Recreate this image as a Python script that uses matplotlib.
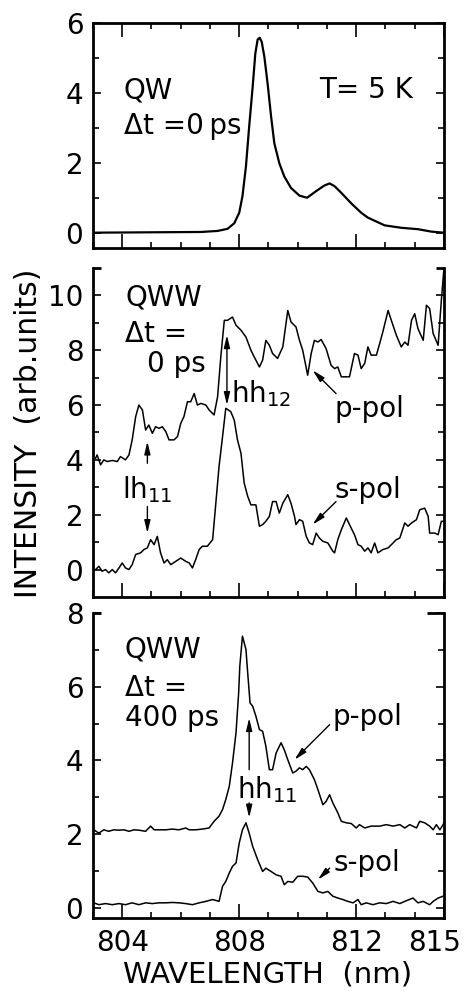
import matplotlib
matplotlib.use("Agg")
import matplotlib.pyplot as plt
from matplotlib.ticker import MultipleLocator, FixedLocator
from matplotlib.lines import Line2D
from matplotlib.transforms import ScaledTranslation

plt.rcParams['font.family'] = ['DejaVu Sans']
plt.rcParams['mathtext.fontset'] = 'dejavusans'

# ---------------- data ----------------
# Panel 1: QW, dt = 0 ps
qw_wl = [803.0, 806.69, 807.26, 807.60, 807.83, 808.00, 808.11, 808.23, 808.34, 808.46,
         808.55, 808.63, 808.70, 808.77, 808.86, 808.97, 809.09, 809.20, 809.37, 809.54,
         809.77, 810.06, 810.32, 810.63, 810.91, 811.09, 811.26, 811.49, 811.83, 812.17,
         812.40, 812.97, 813.54, 814.11, 814.57, 815.0]
qw_int = [0.0, 0.02, 0.05, 0.11, 0.27, 0.57, 1.04, 1.90, 3.04, 4.18,
          5.13, 5.53, 5.58, 5.46, 5.03, 4.27, 3.32, 2.56, 1.99, 1.61,
          1.28, 1.06, 1.00, 1.19, 1.35, 1.41, 1.33, 1.14, 0.84, 0.57,
          0.43, 0.21, 0.14, 0.10, 0.03, 0.0]

# Panel 2: QWW, dt = 0 ps
qww0_p_wl = [803.09, 803.14, 803.26, 803.37, 803.49, 803.66, 803.83, 803.94, 804.11, 804.23,
             804.34, 804.46, 804.57, 804.69, 804.80, 804.91, 805.03, 805.14, 805.26, 805.37,
             805.49, 805.60, 805.77, 805.89, 806.00, 806.11, 806.23, 806.34, 806.46, 806.57,
             806.69, 806.86, 806.97, 807.14, 807.26, 807.37, 807.49, 807.60, 807.77, 807.89,
             808.06, 808.23, 808.40, 808.51, 808.69, 808.80, 808.91, 809.03, 809.14, 809.31,
             809.49, 809.66, 809.77, 809.94, 810.06, 810.17, 810.34, 810.46, 810.57, 810.69,
             810.80, 810.97, 811.14, 811.26, 811.37, 811.49, 811.77, 811.94, 812.06, 812.17,
             812.29, 812.40, 812.51, 812.69, 812.80, 812.91, 813.09, 813.20, 813.37, 813.54,
             813.66, 813.77, 813.89, 814.00, 814.11, 814.29, 814.40, 814.51, 814.63, 814.80,
             814.91, 815.0]
qww0_p_int = [4.06, 4.18, 3.82, 4.00, 3.94, 3.98, 3.94, 4.12, 4.00, 4.18,
              4.73, 5.58, 6.00, 5.82, 5.09, 5.27, 4.97, 5.21, 5.15, 5.21,
              5.03, 4.73, 4.73, 4.85, 5.33, 5.58, 6.12, 6.12, 6.42, 6.00,
              6.06, 6.00, 5.82, 5.64, 6.30, 7.76, 9.09, 9.09, 9.21, 8.91,
              8.73, 8.48, 8.00, 7.76, 7.39, 7.64, 8.36, 8.18, 7.88, 7.70,
              8.12, 9.45, 9.03, 8.85, 8.36, 8.00, 7.09, 7.88, 8.36, 8.30,
              8.39, 8.06, 7.45, 7.33, 7.39, 7.03, 7.03, 7.88, 7.82, 7.33,
              7.52, 8.12, 7.82, 7.82, 8.24, 8.67, 9.45, 9.09, 8.55, 8.12,
              8.30, 8.18, 9.09, 9.33, 8.79, 8.36, 9.64, 9.52, 8.61, 8.18,
              9.82, 11.0]

qww0_s_wl = [803.09, 803.20, 803.31, 803.43, 803.54, 803.66, 803.77, 803.89, 804.00, 804.11,
             804.23, 804.34, 804.46, 804.63, 804.74, 804.86, 804.97, 805.09, 805.20, 805.31,
             805.43, 805.54, 805.66, 805.83, 806.00, 806.17, 806.29, 806.40, 806.51, 806.63,
             806.74, 806.91, 807.09, 807.20, 807.31, 807.43, 807.54, 807.71, 807.83, 807.94,
             808.06, 808.17, 808.29, 808.40, 808.57, 808.69, 808.80, 808.91, 809.03, 809.14,
             809.26, 809.37, 809.49, 809.66, 809.77, 809.89, 809.94, 810.06, 810.17, 810.29,
             810.40, 810.51, 810.63, 810.74, 810.86, 811.03, 811.20, 811.26, 811.37, 811.49,
             811.66, 811.77, 811.94, 812.06, 812.17, 812.29, 812.40, 812.51, 812.63, 812.74,
             812.91, 813.09, 813.26, 813.37, 813.49, 813.66, 813.77, 813.89, 814.06, 814.17,
             814.34, 814.46, 814.51, 814.69, 814.80, 814.91, 815.0]
qww0_s_int = [0.00, 0.12, -0.06, 0.00, -0.12, 0.00, -0.12, 0.06, 0.24, 0.06,
              0.00, 0.18, 0.55, 0.61, 0.73, 0.79, 1.09, 0.91, 1.21, 0.61,
              0.24, 0.36, 0.18, 0.30, 0.42, 0.30, 0.24, 0.06, 0.36, 0.73,
              0.85, 0.85, 1.09, 2.42, 3.76, 4.85, 5.88, 5.76, 5.45, 4.73,
              4.24, 3.15, 2.67, 2.36, 2.36, 1.58, 1.64, 1.76, 1.94, 2.48,
              2.48, 2.06, 2.42, 2.73, 2.42, 1.94, 1.64, 1.82, 1.76, 1.21,
              0.97, 0.91, 1.33, 1.15, 1.03, 0.97, 0.67, 0.61, 1.09, 1.45,
              1.88, 1.64, 1.27, 0.91, 0.85, 0.67, 0.79, 0.61, 0.97, 0.61,
              0.73, 0.79, 0.97, 1.09, 1.15, 1.70, 1.58, 1.70, 1.82, 2.18,
              2.24, 1.94, 1.33, 1.33, 1.27, 1.76, 1.76]

# Panel 3: QWW, dt = 400 ps
qww400_p_wl = [803.03, 803.20, 803.37, 803.54, 803.71, 803.89, 804.06, 804.23, 804.40, 804.57,
               804.80, 804.97, 805.09, 805.26, 805.49, 805.71, 805.94, 806.17, 806.29, 806.51,
               806.74, 806.97, 807.14, 807.31, 807.43, 807.54, 807.66, 807.77, 807.89, 807.98,
               808.02, 808.11, 808.23, 808.29, 808.37, 808.46, 808.57, 808.69, 808.80, 808.91,
               809.03, 809.14, 809.26, 809.43, 809.54, 809.66, 809.83, 809.94, 810.06, 810.17,
               810.29, 810.40, 810.57, 810.69, 810.86, 810.97, 811.09, 811.20, 811.37, 811.49,
               811.66, 811.83, 812.00, 812.11, 812.29, 812.51, 812.80, 813.03, 813.26, 813.49,
               813.66, 813.83, 814.06, 814.17, 814.34, 814.51, 814.63, 814.74, 814.86, 814.97,
               815.0]
qww400_p_int = [2.12, 2.03, 2.12, 2.08, 2.12, 2.11, 2.12, 2.08, 2.12, 2.11,
                2.08, 2.22, 2.12, 2.12, 2.12, 2.14, 2.12, 2.17, 2.12, 2.12,
                2.14, 2.17, 2.35, 2.49, 2.67, 2.94, 3.30, 3.93, 4.75, 5.83,
                6.56, 7.37, 7.01, 6.37, 5.56, 5.47, 5.20, 4.84, 4.79, 4.39,
                3.75, 3.75, 4.20, 4.48, 4.29, 4.02, 3.66, 3.71, 3.80, 3.75,
                3.84, 3.75, 3.48, 3.21, 2.80, 2.89, 3.07, 2.85, 2.58, 2.35,
                2.31, 2.29, 2.17, 2.26, 2.17, 2.22, 2.22, 2.26, 2.22, 2.26,
                2.17, 2.26, 2.17, 2.35, 2.31, 2.22, 2.12, 2.26, 2.12, 2.26,
                2.32]

qww400_s_wl = [803.03, 803.20, 803.43, 803.66, 803.89, 804.11, 804.34, 804.57, 804.80, 805.03,
               805.26, 805.49, 805.71, 805.94, 806.17, 806.40, 806.63, 806.86, 807.09, 807.31,
               807.43, 807.54, 807.66, 807.77, 807.89, 808.00, 808.11, 808.23, 808.34, 808.46,
               808.63, 808.80, 808.91, 809.09, 809.26, 809.43, 809.54, 809.66, 809.83, 810.00,
               810.17, 810.34, 810.51, 810.69, 810.86, 811.03, 811.20, 811.37, 811.54, 811.71,
               811.89, 812.06, 812.17, 812.34, 812.57, 812.80, 813.03, 813.26, 813.49, 813.66,
               813.94, 814.11, 814.29, 814.51, 814.63, 814.80, 814.97, 815.0]
qww400_s_int = [0.14, 0.09, 0.12, 0.09, 0.12, 0.09, 0.14, 0.09, 0.14, 0.12,
                0.14, 0.14, 0.15, 0.14, 0.12, 0.09, 0.14, 0.18, 0.23, 0.18,
                0.59, 0.72, 0.95, 1.13, 1.22, 1.76, 2.12, 2.31, 2.03, 1.67,
                1.31, 0.99, 1.08, 0.99, 0.90, 0.86, 0.63, 0.72, 0.70, 0.86,
                0.86, 0.84, 0.68, 0.45, 0.41, 0.45, 0.32, 0.27, 0.23, 0.18,
                0.14, 0.23, 0.09, 0.14, 0.09, 0.14, 0.12, 0.18, 0.12, 0.18,
                0.27, 0.14, 0.18, 0.09, 0.18, 0.27, 0.32, 0.33]

x_major = [804, 808, 812, 815]
x_labels = ['804', '808', '812', '815']

# ---------------- figure ----------------
fig = plt.figure(figsize=(4.67, 9.91), dpi=100)
L, W = 0.1991, 0.7516
ax1 = fig.add_axes([L, 0.7497, W, 0.2270])
ax2 = fig.add_axes([L, 0.3976, W, 0.3320])
ax3 = fig.add_axes([L, 0.0737, W, 0.3078])

FS = 20
SPW = 2.0

def style(ax, ylim, ymaj, ymin, top_spine=True, xlabels=False, stub_r=0.02):
    ax.set_xlim(803, 815)
    ax.set_ylim(*ylim)
    for s in ax.spines.values():
        s.set_linewidth(SPW)
    ax.xaxis.set_major_locator(FixedLocator(x_major))
    ax.xaxis.set_minor_locator(MultipleLocator(1))
    ax.yaxis.set_major_locator(FixedLocator(ymaj))
    ax.yaxis.set_minor_locator(FixedLocator(ymin))
    ax.tick_params(axis='x', which='major', direction='in', length=10, width=1.2,
                   top=top_spine, bottom=True, labelsize=FS, pad=8)
    ax.tick_params(axis='x', which='minor', direction='in', length=4.5, width=1.2,
                   top=top_spine, bottom=True)
    ax.tick_params(axis='y', which='major', direction='in', length=6, width=1.2,
                   left=True, right=True, labelsize=FS, pad=7)
    ax.tick_params(axis='y', which='minor', direction='in', length=4, width=1.2,
                   left=True, right=True)
    ax.set_yticklabels([str(v) for v in ymaj])
    if xlabels:
        ax.set_xticklabels(x_labels)
    else:
        ax.set_xticklabels([])
    if not top_spine:
        ax.spines['top'].set_visible(False)
        ax.add_line(Line2D([0, 0.022], [1, 1], transform=ax.transAxes, color='k',
                           lw=SPW, clip_on=False, solid_capstyle='butt'))
        ax.add_line(Line2D([1 - stub_r, 1], [1, 1], transform=ax.transAxes, color='k',
                           lw=SPW, clip_on=False, solid_capstyle='butt'))

style(ax1, (-0.44, 6), [0, 2, 4, 6], [1, 3, 5])
style(ax2, (-1, 11), [0, 2, 4, 6, 8, 10], [1, 3, 5, 7, 9], top_spine=False, stub_r=0.022)
style(ax3, (-0.27, 8), [0, 2, 4, 6, 8], [1, 3, 5, 7], top_spine=False, xlabels=True, stub_r=0.048)

# keep the right-most label "815" inside the canvas
lab815 = ax3.get_xticklabels()[-1]
lab815.set_transform(lab815.get_transform() + ScaledTranslation(-7 / 72, 0, fig.dpi_scale_trans))

# curves
ax1.plot(qw_wl, qw_int, color='k', lw=1.6)
ax2.plot(qww0_p_wl, qww0_p_int, color='k', lw=1.1)
ax2.plot(qww0_s_wl, qww0_s_int, color='k', lw=1.1)
ax3.plot(qww400_p_wl, qww400_p_int, color='k', lw=1.1)
ax3.plot(qww400_s_wl, qww400_s_int, color='k', lw=1.1)

AS = '-|>,head_length=0.75,head_width=0.18'
def arrow(ax, tail, head, style=AS):
    ax.annotate('', xy=head, xytext=tail,
                arrowprops=dict(arrowstyle=style, color='k', lw=1.0,
                                shrinkA=0, shrinkB=0, mutation_scale=10))

# panel 1 texts
ax1.text(804.05, 4.08, 'QW', fontsize=FS, ha='left', va='center')
ax1.text(804.05, 3.04, 'Δt =0\u2009ps', fontsize=FS, ha='left', va='center')
ax1.text(813.94, 4.08, 'T= 5 K', fontsize=FS, ha='right', va='center')

# panel 2 texts
ax2.text(804.11, 9.94, 'QWW', fontsize=FS, ha='left', va='center')
ax2.text(804.11, 8.6, 'Δt =', fontsize=FS, ha='left', va='center')
ax2.text(804.86, 7.5, '0 ps', fontsize=FS, ha='left', va='center')
ax2.text(804.0, 2.6, r'lh$_{11}$', fontsize=FS, ha='left', va='baseline')
ax2.text(807.71, 6.12, r'hh$_{12}$', fontsize=FS, ha='left', va='baseline')
ax2.text(811.26, 5.58, 'p-pol', fontsize=FS, ha='left', va='baseline')
ax2.text(811.26, 2.6, 's-pol', fontsize=FS, ha='left', va='baseline')
arrow(ax2, (804.86, 3.88), (804.86, 4.67))
arrow(ax2, (804.86, 2.3), (804.86, 1.33))
arrow(ax2, (807.58, 6.0), (807.58, 8.55), style='<|-|>,head_length=0.75,head_width=0.18')
arrow(ax2, (811.31, 6.42), (810.51, 7.27))
arrow(ax2, (811.31, 2.48), (810.51, 1.64))

# panel 3 texts
ax3.text(804.09, 7.0, 'QWW', fontsize=FS, ha='left', va='center')
ax3.text(804.09, 5.97, 'Δt =', fontsize=FS, ha='left', va='center')
ax3.text(804.09, 5.15, '400 ps', fontsize=FS, ha='left', va='center')
ax3.text(807.94, 2.98, r'hh$_{11}$', fontsize=FS, ha='left', va='baseline')
ax3.text(811.2, 4.97, 'p-pol', fontsize=FS, ha='left', va='baseline')
ax3.text(811.23, 0.99, 's-pol', fontsize=FS, ha='left', va='baseline')
arrow(ax3, (808.34, 3.75), (808.34, 5.15))
arrow(ax3, (808.34, 2.85), (808.34, 2.45))
arrow(ax3, (811.09, 4.97), (809.89, 4.02))
arrow(ax3, (811.09, 1.08), (810.69, 0.77))

fig.text(0.060, 1 - 433 / 991, 'INTENSITY  (arb.units)', rotation=90, fontsize=21.5,
         ha='center', va='center')
fig.text(0.574, 1 - 974 / 991, 'WAVELENGTH  (nm)', fontsize=21, ha='center', va='center')

fig.savefig('out.png', dpi=100)
